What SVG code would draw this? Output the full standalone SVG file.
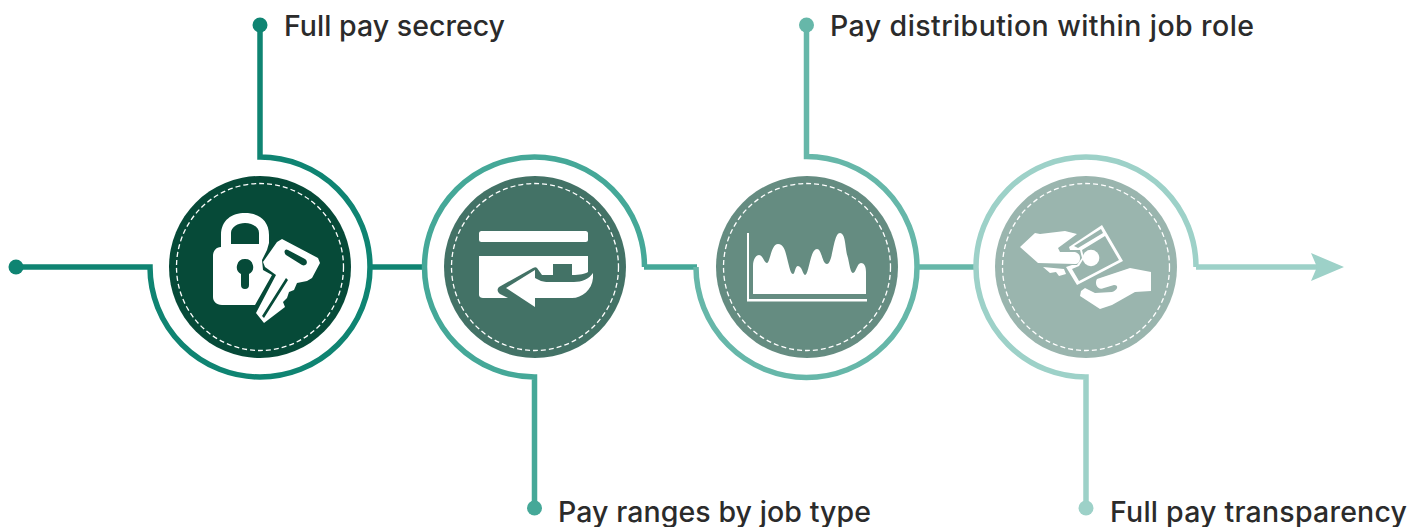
<svg xmlns="http://www.w3.org/2000/svg" width="1412" height="527" viewBox="0 0 1412 527">
<style>
.l{fill:none;stroke-width:5.5}
.c1{stroke:#0f8472}.c2{stroke:#45a898}.c3{stroke:#66b7a9}.c4{stroke:#9dd1c8}
.dash{fill:none;stroke:#fff;stroke-width:1.3;stroke-dasharray:5 3}
.t{font-family:"Inter",sans-serif;font-weight:500;font-size:28.5px;fill:#2b2b2b}
.i{fill:#fff}
</style>
<defs>
<marker id="ah" markerUnits="userSpaceOnUse" markerWidth="34" markerHeight="30" refX="9" refY="15" orient="auto"><path d="M0 1 L33 15 L0 29 L6 15Z" fill="#9dd1c8"/></marker>
</defs>
<g id="connectors">
<path class="l c1" d="M16 267H150A110 110 0 1 0 260 157V25"/>
<path class="l c1" d="M370 267H424"/>
<path class="l c2" d="M644.500 267A110 110 0 1 0 534.500 377V508"/>
<path class="l c2" d="M644 267H697"/>
<path class="l c3" d="M696 267A110.500 110.500 0 1 0 806.500 156.500V25"/>
<path class="l c3" d="M917 267H975"/>
<path class="l c4" d="M1196 267A110 110 0 1 0 1086 377V508"/>
<path class="l c4" d="M1196 267H1320" marker-end="url(#ah)"/>
</g>
<g id="start"><circle cx="16" cy="267" r="7.500" fill="#0f8472"/></g>
<g id="node1">
<circle cx="260" cy="267" r="91" fill="#064a38"/>
<circle class="dash" cx="260" cy="267" r="83.500"/>
<path class="i" fill-rule="evenodd" d="M221 247V235C221 220 232 213 245 213C258 213 269 220 269 235V243L267 250L262 260L263 270L272 275L255 305H222C216 305 213 301 213 297V256C213 251 216 247 221 247ZM231 244V233C231 227 238 223 245 223C252 223 259 227 259 233V244ZM245 259A8 8 0 0 0 241 274V285A4 4 0 0 0 249 285V274A8 8 0 0 0 245 259Z"/>
<path class="i" fill-rule="evenodd" d="M282 239L318 258L320 263L312 278L307 281L297 283L294 290L289 292L287 298L283 302L285 307L264 323L256 313L276 275L265 267L263 262L277 242ZM288 250L305 259C309 262 306 267 302 265L286 255C283 252 285 248 288 250ZM286 278L288 280L264 318L262 316Z"/>
</g>
<g id="node2">
<circle cx="535" cy="267" r="91" fill="#437266"/>
<circle class="dash" cx="535" cy="267" r="83.500"/>
<rect class="i" x="479" y="231" width="109" height="11" rx="2.500"/>
<path class="i" d="M479 256H588V272C585 274 580 275 572 275V264H553V275H542L537 268C536 267 535 267 533 268L499 287C497 289 497 292 500 294L508 298H483C481 298 479 297 479 295Z"/>
<path class="i" d="M593 273V278C592 290 582 298 572 298H535V307L506 288L535 270V278L541 281C544 282 548 282 552 282H574C582 282 589 279 593 273Z"/>
</g>
<g id="node3">
<circle cx="807" cy="267" r="91" fill="#658c81"/>
<circle class="dash" cx="807" cy="267" r="83.500"/>
<path class="i" d="M749 233V299H867V301.500H747V233Z"/>
<path class="i" d="M753 294V266C753 258 757 255 759 255C763 255 764 263 767 263C770 263 771 244 778 244C785 244 786 255 788 262C790 270 791 274 793 274C795 274 795 266 798 266C802 266 803 275 805 275C809 275 810 249 817 249C822 249 822 264 827 264C833 264 833 233 840 233C846 233 845 250 848 258C850 268 851 273 853 273C856 273 857 263 861 263C864 263 866 266 866 272V294Z"/>
</g>
<g id="node4">
<circle cx="1086" cy="267" r="91" fill="#9ab5ae"/>
<circle class="dash" cx="1086" cy="267" r="83.500"/>
<path class="i" d="M1020 247L1035 233L1040 234L1065 231L1077 234L1058 248L1060 252L1075 252C1079 253 1080 256 1080 258C1080 262 1078 264 1075 264L1038 263Z"/>
<path class="i" d="M1043 267L1064 269L1066 274L1059 276L1056 272L1050 273Z"/>
<path class="i" fill-rule="evenodd" d="M1069 247L1102 225L1123 261L1077 285L1066 267L1072 265L1077 265L1082 258L1080 250L1070 250ZM1074 246L1078 248L1103 233L1101 229ZM1082 250L1105 236L1119 260L1079 281L1072 269L1079 266L1084 258Z"/>
<circle class="i" cx="1091" cy="258" r="8.300"/>
<path class="i" d="M1097 279L1130 268L1151 272V291L1135 292L1112 305L1100 309L1080 296L1081 291L1085 288L1095 293L1112 292C1118 290 1119 285 1114 285L1104 288C1098 291 1094 284 1097 279Z"/>
</g>
<g id="label1"><circle cx="260" cy="25" r="7.500" fill="#0f8472"/><text class="t" x="284" y="36" textLength="221">Full pay secrecy</text></g>
<g id="label2"><circle cx="534.500" cy="508" r="7.500" fill="#45a898"/><text class="t" x="558" y="522" textLength="313">Pay ranges by job type</text></g>
<g id="label3"><circle cx="806.500" cy="25" r="7.500" fill="#66b7a9"/><text class="t" x="830" y="36" textLength="424">Pay distribution within job role</text></g>
<g id="label4"><circle cx="1086" cy="508" r="7.500" fill="#9dd1c8"/><text class="t" x="1110" y="522" textLength="297">Full pay transparency</text></g>
</svg>
